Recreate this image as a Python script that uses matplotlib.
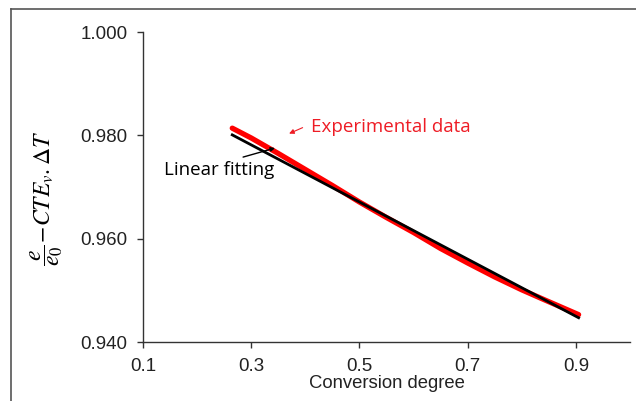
import numpy as np
import matplotlib
matplotlib.use("Agg")
import matplotlib.pyplot as plt
from matplotlib.lines import Line2D

exp_x = [0.265, 0.30, 0.35, 0.40, 0.45, 0.50, 0.55, 0.60, 0.65, 0.70, 0.75, 0.80, 0.85, 0.905]
exp_y = [0.9814, 0.9795, 0.9765, 0.9734, 0.9703, 0.9671, 0.9641, 0.9612, 0.9581, 0.9553, 0.9526, 0.9501, 0.9478, 0.9453]

# linear fitting end points
fit_x = [0.265, 0.905]
fit_y = [0.9801, 0.9447]

xticks = [0.1, 0.3, 0.5, 0.7, 0.9]
yticks = [0.940, 0.960, 0.980, 1.000]

plt.rcParams["mathtext.fontset"] = "stix"

fig = plt.figure(figsize=(6.36, 4.01), dpi=100)
ax = fig.add_axes([0.2248, 0.1471, 0.7658, 0.7729])

ax.plot(exp_x, exp_y, color="#ff0000", lw=3.8, solid_capstyle="round", zorder=2)
ax.plot(fit_x, fit_y, color="black", lw=2.0, zorder=3)

ax.set_xlim(0.1, 1.0)
ax.set_ylim(0.940, 1.000)
ax.set_xticks(xticks)
ax.set_xticklabels([f"{t:.1f}" for t in xticks])
ax.set_yticks(yticks)
ax.set_yticklabels([f"{t:.3f}" for t in yticks])

for s in ["top", "right"]:
    ax.spines[s].set_visible(False)
for s in ["left", "bottom"]:
    ax.spines[s].set_color("#333333")
    ax.spines[s].set_linewidth(1.0)
ax.tick_params(direction="out", length=4.5, width=1, color="#333333",
               labelsize=13.5, labelcolor="#222222")
ax.tick_params(axis="y", pad=6.5)
ax.tick_params(axis="x", pad=7)
for lab in ax.get_xticklabels() + ax.get_yticklabels():
    lab.set_family("Liberation Sans")

ax.set_xlabel("Conversion degree", fontsize=13.3, family="Liberation Sans",
              color="#222222", labelpad=0)
fig.text(0.074, 0.505, r"$\dfrac{e}{e_0}\!-\!CTE_v{.}\Delta T$", rotation=90,
         fontsize=17, ha="center", va="center")

# annotations
ax.text(0.4105, 0.9816, "Experimental data", color="#ee1c25", fontsize=13.5,
        family="Open Sans", va="center")
ax.annotate("", xy=(0.370, 0.98035), xytext=(0.395, 0.9815),
            arrowprops=dict(arrowstyle="-|>", color="#ee1c25", lw=0.8,
                            mutation_scale=7, shrinkA=0, shrinkB=0))
ax.text(0.2405, 0.9733, "Linear fitting", color="black", fontsize=13.5,
        family="Open Sans", ha="center", va="center")
ax.annotate("", xy=(0.344, 0.97755), xytext=(0.285, 0.9758),
            arrowprops=dict(arrowstyle="-|>", color="black", lw=1.0,
                            mutation_scale=6, shrinkA=0, shrinkB=0))

# outer frame lines
fig.add_artist(Line2D([0.0173, 0.0173], [0.0, 0.978], color="#555555", lw=1.2))
fig.add_artist(Line2D([0.0173, 1.0], [0.978, 0.978], color="#555555", lw=1.2))

fig.savefig("out.png", dpi=100)
